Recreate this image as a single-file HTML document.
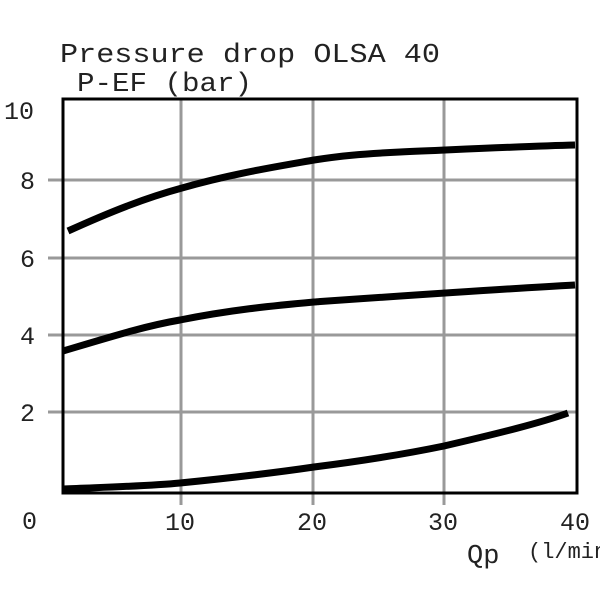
<!DOCTYPE html>
<html><head><style>body{margin:0;background:#fff}</style></head><body>
<svg width="600" height="600" xmlns="http://www.w3.org/2000/svg" font-family="Liberation Mono, monospace" font-size="25" fill="#222">
<rect width="600" height="600" fill="#fff"/>
<g stroke="#999" stroke-width="3">
<line x1="181" y1="99" x2="181" y2="505"/>
<line x1="313" y1="99" x2="313" y2="505"/>
<line x1="444" y1="99" x2="444" y2="505"/>
<line x1="48" y1="180" x2="577" y2="180"/>
<line x1="48" y1="258" x2="577" y2="258"/>
<line x1="48" y1="335" x2="577" y2="335"/>
<line x1="48" y1="412" x2="577" y2="412"/>
</g>
<rect x="63" y="99" width="514" height="394" fill="none" stroke="#000" stroke-width="3"/>
<g fill="none" stroke="#000" stroke-width="7">
<path d="M68,231 C110,212 145,198 182,188 C230,174 280,166 314,160 C340,156 360,154 400,152 C470,149 530,146 575,145"/>
<path d="M63,351 C110,337 145,326 180,320 C230,310 270,306 314,302 C400,296 500,289 575,285"/>
<path d="M63,489 C110,487 150,486 180,483 C240,477 280,472 314,467 C370,460 410,453 444,446 C500,433 540,423 568,413"/>
</g>
<text x="60" y="62" font-size="27" textLength="380" lengthAdjust="spacingAndGlyphs">Pressure drop OLSA 40</text>
<text x="77" y="91" font-size="27" textLength="175" lengthAdjust="spacingAndGlyphs">P-EF (bar)</text>
<text x="4" y="119">10</text>
<text x="20" y="189">8</text>
<text x="20" y="267">6</text>
<text x="20" y="344">4</text>
<text x="20" y="421">2</text>
<text x="22" y="529">0</text>
<text x="165" y="530">10</text>
<text x="297" y="530">20</text>
<text x="428" y="530">30</text>
<text x="560" y="530">40</text>
<text x="467" y="563" font-size="27">Qp</text>
<text x="528" y="558" font-size="22">(l/min)</text>
</svg>
</body></html>
